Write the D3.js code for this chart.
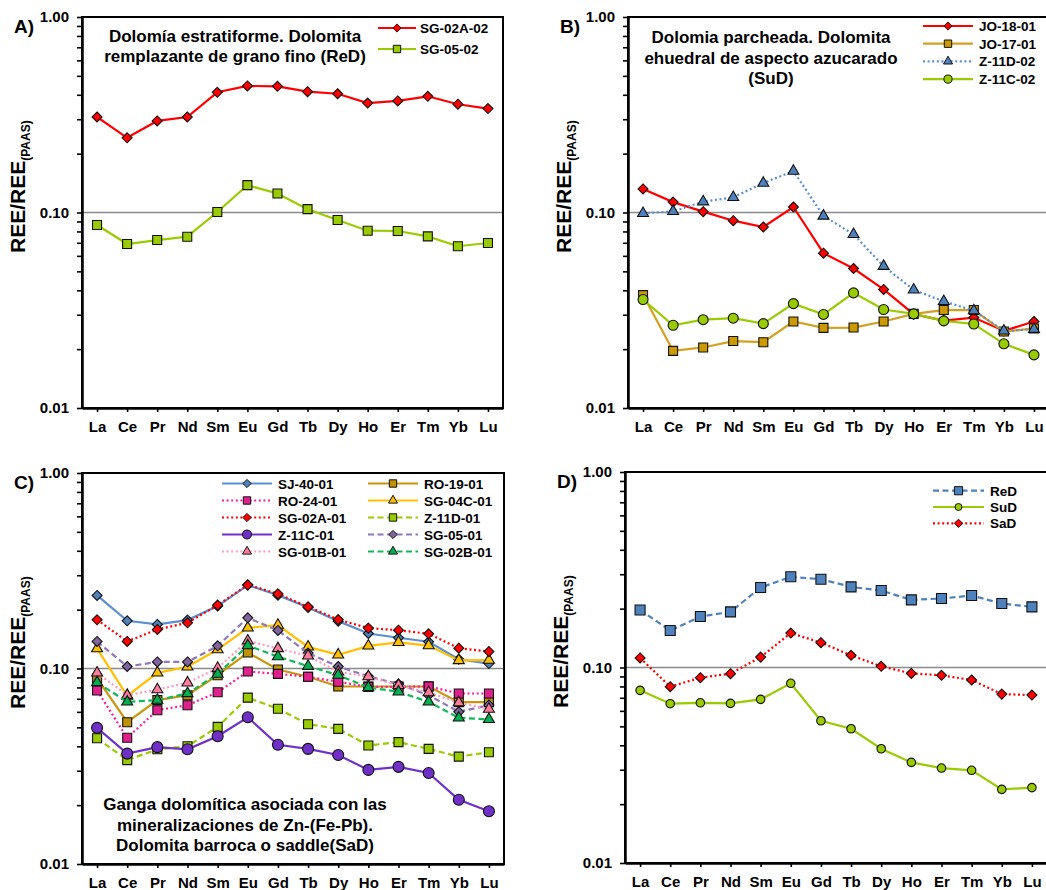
<!DOCTYPE html>
<html>
<head>
<meta charset="utf-8">
<script src="https://cdn.jsdelivr.net/npm/d3@7"></script>
<style>
  body { margin: 0; background: #fff; }
  text { font-family: "Liberation Sans", Arial, sans-serif; font-weight: bold; fill: #000; }
</style>
</head>
<body>
<script>
// categories and tick labels
var categories = ["La", "Ce", "Pr", "Nd", "Sm", "Eu", "Gd", "Tb", "Dy", "Ho", "Er", "Tm", "Yb", "Lu"];
var yTickLabels = ["0.01", "0.10", "1.00"];

// A) ReD samples
var sg02a02 = [0.308, 0.241, 0.294, 0.308, 0.412, 0.444, 0.442, 0.415, 0.405, 0.363, 0.372, 0.393, 0.358, 0.340];
var sg0502 = [0.0863, 0.069, 0.0723, 0.0752, 0.1006, 0.138, 0.125, 0.104, 0.0916, 0.0807, 0.0804, 0.0755, 0.0672, 0.0698];

// B) SuD samples
var jo1801 = [0.132, 0.113, 0.101, 0.0908, 0.0843, 0.1067, 0.0619, 0.0517, 0.0404, 0.0302, 0.028, 0.029, 0.0248, 0.0277];
var jo1701 = [0.0378, 0.0196, 0.0204, 0.022, 0.0217, 0.0277, 0.0257, 0.0258, 0.0277, 0.0303, 0.0317, 0.0317, 0.0246, 0.0255];
var z11d02 = [0.099, 0.1014, 0.1136, 0.1195, 0.1415, 0.163, 0.096, 0.0773, 0.0531, 0.0402, 0.0351, 0.0315, 0.0248, 0.0253];
var z11c02 = [0.0359, 0.0265, 0.0283, 0.0288, 0.027, 0.0342, 0.0301, 0.0388, 0.0319, 0.0303, 0.0279, 0.0269, 0.0213, 0.0187];

// C) SaD samples
var sj4001 = [0.2365, 0.1754, 0.168, 0.1768, 0.2086, 0.267, 0.2373, 0.2052, 0.1747, 0.151, 0.1436, 0.137, 0.1116, 0.106];
var ro1901 = [0.0889, 0.0531, 0.0689, 0.073, 0.0924, 0.1207, 0.0988, 0.0907, 0.0809, 0.0809, 0.0809, 0.0809, 0.0673, 0.0673];
var ro2401 = [0.0772, 0.0442, 0.0612, 0.0649, 0.0756, 0.0965, 0.0939, 0.0907, 0.0855, 0.0805, 0.0805, 0.081, 0.0745, 0.0745];
var sg04c01 = [0.1265, 0.0724, 0.095, 0.102, 0.125, 0.1615, 0.1667, 0.129, 0.1175, 0.1306, 0.136, 0.131, 0.11, 0.1104];
var sg02a01 = [0.1775, 0.1375, 0.1584, 0.1713, 0.211, 0.268, 0.241, 0.2068, 0.178, 0.1609, 0.157, 0.1505, 0.127, 0.122];
var z11d01 = [0.044, 0.034, 0.0386, 0.04, 0.0503, 0.071, 0.0622, 0.0519, 0.0491, 0.0404, 0.042, 0.0388, 0.0354, 0.0373];
var z11c01 = [0.0497, 0.0367, 0.0396, 0.0386, 0.045, 0.0563, 0.0407, 0.0388, 0.0361, 0.0303, 0.0314, 0.0292, 0.0213, 0.0186];
var sg0501 = [0.1375, 0.1024, 0.108, 0.108, 0.1306, 0.1817, 0.1565, 0.12, 0.1024, 0.0912, 0.0833, 0.073, 0.06, 0.065];
var sg01b01 = [0.095, 0.073, 0.078, 0.0845, 0.1004, 0.1385, 0.1266, 0.116, 0.0962, 0.091, 0.082, 0.0753, 0.067, 0.062];
var sg02b01 = [0.0848, 0.0675, 0.0689, 0.0745, 0.0936, 0.131, 0.115, 0.1028, 0.0925, 0.08, 0.076, 0.0675, 0.0559, 0.055];

// D) averages
var redAvg = [0.197, 0.1545, 0.1822, 0.1925, 0.2565, 0.291, 0.283, 0.2585, 0.2475, 0.2218, 0.2253, 0.2334, 0.2124, 0.2042];
var sudAvg = [0.0764, 0.0653, 0.066, 0.0655, 0.0687, 0.083, 0.0534, 0.0486, 0.0384, 0.0327, 0.0306, 0.0298, 0.0238, 0.0243];
var sadAvg = [0.1119, 0.0798, 0.0887, 0.093, 0.113, 0.15, 0.134, 0.1154, 0.1014, 0.0933, 0.0912, 0.0863, 0.0731, 0.0723];

var DOT = "2,2.6", DASH = "6,3.5";

var svg = d3.select("body").append("svg").attr("width", 1046).attr("height", 890);

// marker path, w = visual width
function markerPath(type, w) {
  if (type == "diamond") { var h = w / 2; return "M0," + (-h) + "L" + h + ",0L0," + h + "L" + (-h) + ",0Z"; }
  if (type == "square") return d3.symbol(d3.symbolSquare, w * w)();
  if (type == "circle") return d3.symbol(d3.symbolCircle, Math.PI * w * w / 4)();
  if (type == "triangle") return d3.symbol(d3.symbolTriangle, w * w * Math.sqrt(3) / 4)();
}

function panel(p) {
  var g = svg.append("g");
  var x = d3.scalePoint().domain(categories).range([p.left, p.right]).padding(0.5);
  var y = d3.scaleLog().domain([0.01, 1]).range([p.bottom, p.top]);

  // grey reference line at 0.10
  g.append("line")
    .attr("x1", p.left).attr("x2", p.right)
    .attr("y1", y(0.1)).attr("y2", y(0.1))
    .attr("stroke", "#8a8a8a").attr("stroke-width", 1.6);

  // frame
  g.append("rect")
    .attr("x", p.left).attr("y", p.top)
    .attr("width", p.right - p.left).attr("height", p.bottom - p.top)
    .attr("fill", "none").attr("stroke", "#000").attr("stroke-width", 2);

  // y axis, minor ticks 2..9 each decade
  var yTicks = [];
  [0.01, 0.1].forEach(function(dec) { for (var k = 1; k < 10; k++) yTicks.push(+(k * dec).toPrecision(3)); });
  yTicks.push(1);
  var yAxis = d3.axisLeft(y).tickValues(yTicks).tickSize(5).tickSizeOuter(0).tickPadding(8)
    .tickFormat(function(d) {
      var i = [0.01, 0.1, 1].indexOf(d);
      return i >= 0 ? yTickLabels[i] : "";
    });
  var ya = g.append("g").attr("transform", "translate(" + p.left + ",0)").call(yAxis);
  ya.select(".domain").attr("stroke-width", 2.5);
  ya.selectAll(".tick line").attr("stroke-width", 1.6);
  ya.selectAll("text").style("font-size", "15px").attr("fill", "#000");

  var xAxis = d3.axisBottom(x).tickSize(4).tickSizeOuter(0).tickPadding(9.5);
  var xa = g.append("g").attr("transform", "translate(0," + p.bottom + ")").call(xAxis);
  xa.select(".domain").attr("stroke-width", 2.5);
  xa.selectAll(".tick line").attr("stroke-width", 1.6);
  xa.selectAll("text").style("font-size", "15px").attr("fill", "#000");

  // y title
  var yt = g.append("text")
    .attr("transform", "translate(" + (p.left - 57) + "," + (p.top + 236) + ") rotate(-90)")
    .style("font-size", "21px");
  yt.append("tspan").text("REE/REE");
  yt.append("tspan").attr("dy", 5).style("font-size", "12px").text("(PAAS)");

  // panel letter
  g.append("text").attr("x", p.left - 68).attr("y", p.top + 16)
    .style("font-size", "19px").text(p.letter);

  // title text
  p.title.forEach(function(t, i) {
    g.append("text").attr("x", p.titleX).attr("y", p.titleY + i * p.titleDy)
      .attr("text-anchor", "middle").style("font-size", "17px").text(t);
  });

  var line = d3.line().x(function(d, i) { return x(categories[i]); }).y(function(d) { return y(d); });

  p.series.forEach(function(s) {
    g.append("path").datum(s.values)
      .attr("d", line).attr("fill", "none")
      .attr("stroke", s.line || s.color).attr("stroke-width", 2.2)
      .attr("stroke-dasharray", s.dash || null);
    g.selectAll(null).data(s.values).enter().append("path")
      .attr("transform", function(d, i) { return "translate(" + x(categories[i]) + "," + y(d) + ")"; })
      .attr("d", markerPath(s.marker, s.size))
      .attr("fill", s.color).attr("stroke", "#111").attr("stroke-width", 1.1);
  });

  // legend
  var L = p.legend;
  p.series.forEach(function(s, i) {
    var col = L.cols ? i % L.cols : 0;
    var row = L.cols ? Math.floor(i / L.cols) : i;
    var ox = col * (L.colDx || 0);
    var ly = L.y0 + row * L.dy;
    svg.append("line")
      .attr("x1", L.x0 + ox).attr("x2", L.x1 + ox).attr("y1", ly).attr("y2", ly)
      .attr("stroke", s.line || s.color).attr("stroke-width", 2.2)
      .attr("stroke-dasharray", s.dash || null);
    svg.append("path")
      .attr("transform", "translate(" + ((L.x0 + L.x1) / 2 + ox) + "," + ly + ")")
      .attr("d", markerPath(s.marker, s.size * 0.82))
      .attr("fill", s.color).attr("stroke", "#111").attr("stroke-width", 1);
    svg.append("text").attr("x", L.tx + ox).attr("y", ly + 5)
      .style("font-size", "13.5px").text(s.name);
  });
}

panel({
  letter: "A)", left: 82, right: 503, top: 17, bottom: 408,
  title: ["Dolomía estratiforme. Dolomita", "remplazante de grano fino (ReD)"],
  titleX: 235, titleY: 42, titleDy: 20,
  legend: { x0: 378, x1: 416, tx: 420, y0: 28, dy: 21 },
  series: [
    { name: "SG-02A-02", values: sg02a02, color: "#ff0000", marker: "diamond", size: 10 },
    { name: "SG-05-02", values: sg0502, color: "#99cc00", marker: "square", size: 9 }
  ]
});

panel({
  letter: "B)", left: 628, right: 1049, top: 17, bottom: 408,
  title: ["Dolomia parcheada. Dolomita", "ehuedral de aspecto azucarado", "(SuD)"],
  titleX: 771, titleY: 43, titleDy: 20.5,
  legend: { x0: 923, x1: 973, tx: 979, y0: 26, dy: 17.7 },
  series: [
    { name: "JO-18-01", values: jo1801, color: "#ff0000", marker: "diamond", size: 10 },
    { name: "JO-17-01", values: jo1701, color: "#cc9900", line: "#d4a020", marker: "square", size: 9 },
    { name: "Z-11D-02", values: z11d02, color: "#4f81bd", line: "#5a8fd0", dash: DOT, marker: "triangle", size: 11 },
    { name: "Z-11C-02", values: z11c02, color: "#99cc00", marker: "circle", size: 10 }
  ]
});

panel({
  letter: "C)", left: 82, right: 504, top: 473, bottom: 864,
  title: ["Ganga dolomítica asociada con las", "mineralizaciones de Zn-(Fe-Pb).", "Dolomita barroca o saddle(SaD)"],
  titleX: 245, titleY: 810, titleDy: 20.5,
  legend: { x0: 222, x1: 272, tx: 278, y0: 483.5, dy: 17, cols: 2, colDx: 146 },
  series: [
    { name: "SJ-40-01", values: sj4001, color: "#4f81bd", line: "#5b8fd0", marker: "diamond", size: 10 },
    { name: "RO-19-01", values: ro1901, color: "#bf9000", line: "#c8960c", marker: "square", size: 9 },
    { name: "RO-24-01", values: ro2401, color: "#e0208c", line: "#ff1aa0", dash: DOT, marker: "square", size: 9 },
    { name: "SG-04C-01", values: sg04c01, color: "#ffc000", marker: "triangle", size: 11 },
    { name: "SG-02A-01", values: sg02a01, color: "#ff0000", dash: DOT, marker: "diamond", size: 10 },
    { name: "Z-11D-01", values: z11d01, color: "#99cc00", dash: DASH, marker: "square", size: 9 },
    { name: "Z-11C-01", values: z11c01, color: "#7030c8", marker: "circle", size: 11 },
    { name: "SG-05-01", values: sg0501, color: "#8064a2", line: "#9078b8", dash: DASH, marker: "diamond", size: 10 },
    { name: "SG-01B-01", values: sg01b01, color: "#ff7c9c", line: "#ff99c0", dash: DOT, marker: "triangle", size: 11 },
    { name: "SG-02B-01", values: sg02b01, color: "#00b050", line: "#10b858", dash: DASH, marker: "triangle", size: 11 }
  ]
});

panel({
  letter: "D)", left: 625, right: 1047, top: 472, bottom: 863,
  title: [],
  titleX: 0, titleY: 0, titleDy: 0,
  legend: { x0: 933, x1: 984, tx: 990, y0: 490.7, dy: 16.3 },
  series: [
    { name: "ReD", values: redAvg, color: "#4f81bd", line: "#4f81bd", dash: DASH, marker: "square", size: 10 },
    { name: "SuD", values: sudAvg, color: "#99cc00", marker: "circle", size: 8.5 },
    { name: "SaD", values: sadAvg, color: "#ff0000", dash: DOT, marker: "diamond", size: 10 }
  ]
});
</script>
</body>
</html>
